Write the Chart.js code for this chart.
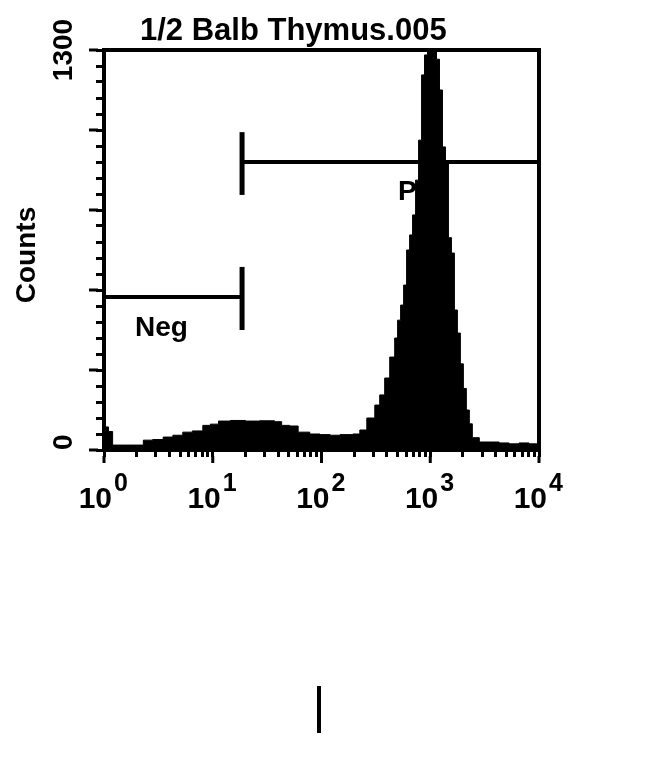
<!DOCTYPE html>
<html lang="en">
<head>
  <meta charset="UTF-8" />
  <title>1/2 Balb Thymus.005</title>
  <style>
    body { margin: 0; background: #fff; }
    #wrap { position: relative; width: 650px; height: 770px; }
    /* little scan mark under the plot */
    #mark { position: absolute; left: 317px; top: 686px; width: 4px; height: 47px; background: #000; }
  </style>
</head>
<body>
  <div id="wrap">
    <canvas id="myChart" width="650" height="770"></canvas>
    <div id="mark"></div>
  </div>
  <script src="https://cdn.jsdelivr.net/npm/chart.js@4.4.0/dist/chart.umd.min.js"></script>
  <script>
    const chartTitle = '1/2 Balb Thymus.005';

    // fluorescence channel (log) and counts per channel
    const intensity = [1, 1.1, 1.2, 1.6, 2.3, 2.8, 3.5, 4.3, 5.3, 6.5, 8.1, 9.5, 11.3, 14.5, 20, 27, 37, 43, 51, 61,
      78, 97, 120, 148, 194, 225, 261, 309, 343, 381, 424, 471, 501, 534, 569, 606, 646, 688, 733, 781,
      832, 886, 944, 1005, 1071, 1141, 1216, 1295, 1380, 1470, 1566, 1668, 1777, 1893, 2016, 2148, 2288, 2437,
      2825, 3485, 4302, 5310, 6555, 8091, 10000];
    const counts = [75, 60, 16, 16, 32, 34, 42, 48, 58, 62, 80, 84, 94, 96, 94, 95, 92, 80, 78, 58,
      52, 50, 48, 50, 52, 65, 104, 146, 179, 234, 302, 364, 422, 471, 536, 650, 699, 764, 877, 1007,
      1219, 1284, 1300, 1300, 1300, 1270, 1170, 985, 940, 690, 640, 455, 380, 280, 200, 130, 85, 40,
      26, 26, 23, 20, 23, 20, 16];

    // axis ticks
    const xTickValues = [1, 2, 3, 4, 5, 6, 7, 8, 9, 10, 20, 30, 40, 50, 60, 70, 80, 90, 100, 200, 300, 400, 500, 600, 700, 800, 900,
      1000, 2000, 3000, 4000, 5000, 6000, 7000, 8000, 9000, 10000];
    const xDecades = [1, 10, 100, 1000, 10000];
    const xExponents = ['0', '1', '2', '3', '4'];
    const yMax = 1300;
    const yStep = 52;
    const yMajor = [0, 260, 520, 780, 1040, 1300];
    const yLabels = [0, 1300];

    // gates
    const gateEdge = 18.6;
    const negGateX = [1, gateEdge];
    const negLevel = 497;
    const negBar = [390, 595];
    const posGateX = [gateEdge, 10000];
    const posLevel = 936;
    const posBar = [829, 1033];

    const FONT = '"Liberation Sans", Arial, sans-serif';

    const paper = {
      id: 'paper',
      afterDraw(chart) {
        const { ctx, chartArea: a, scales: { x, y } } = chart;
        ctx.save();
        ctx.fillStyle = '#000';
        ctx.strokeStyle = '#000';

        // box round the plot
        ctx.lineWidth = 4;
        ctx.strokeRect(a.left, a.top, a.right - a.left, a.bottom - a.top);

        // longer major ticks
        ctx.lineWidth = 3;
        ctx.beginPath();
        yMajor.forEach(v => {
          const py = y.getPixelForValue(v);
          ctx.moveTo(a.left - 15, py);
          ctx.lineTo(a.left - 6, py);
        });
        xDecades.forEach(v => {
          const px = x.getPixelForValue(v);
          ctx.moveTo(px, a.bottom + 6);
          ctx.lineTo(px, a.bottom + 13);
        });
        ctx.stroke();

        // title
        ctx.font = 'bold 31px ' + FONT;
        ctx.textAlign = 'left';
        ctx.textBaseline = 'alphabetic';
        ctx.fillText(chartTitle, 140, 40);

        // gate names
        ctx.font = 'bold 28px ' + FONT;
        ctx.fillText('Neg', 135, 336);

        // x tick labels 10^n
        xDecades.forEach((v, i) => {
          const px = x.getPixelForValue(v);
          ctx.font = 'bold 30px ' + FONT;
          ctx.textAlign = 'right';
          ctx.fillText('10', px + 8, 508);
          ctx.font = 'bold 25px ' + FONT;
          ctx.textAlign = 'left';
          ctx.fillText(xExponents[i], px + 10, 491);
        });

        // y tick labels and title, rotated
        ctx.font = 'bold 28px ' + FONT;
        ctx.textBaseline = 'middle';
        yLabels.forEach(v => {
          const py = y.getPixelForValue(v);
          ctx.save();
          ctx.translate(64, py);
          ctx.rotate(-Math.PI / 2);
          ctx.textAlign = v === 0 ? 'left' : 'center';
          ctx.fillText(String(v), 0, 0);
          ctx.restore();
        });
        ctx.save();
        ctx.translate(27, 255);
        ctx.rotate(-Math.PI / 2);
        ctx.textAlign = 'center';
        ctx.fillText('Counts', 0, 0);
        ctx.restore();

        ctx.restore();
      },
      beforeDatasetsDraw(chart) {
        const { ctx } = chart;
        ctx.save();
        ctx.fillStyle = '#000';
        ctx.font = 'bold 28px ' + FONT;
        ctx.fillText('Pos', 398, 200);
        ctx.restore();
      }
    };

    const pts = (xs, ys) => xs.map((v, i) => ({ x: v, y: ys[i] }));
    const gateStyle = { type: 'line', borderColor: '#000', pointRadius: 0, fill: false };

    const ctx = document.getElementById('myChart').getContext('2d');
    const myChart = new Chart(ctx, {
      type: 'line',
      data: {
        datasets: [{
          label: 'Counts',
          data: pts(intensity, counts),
          stepped: true,
          fill: 'origin',
          backgroundColor: '#000',
          borderColor: '#000',
          borderWidth: 1,
          pointRadius: 0
        },
        { ...gateStyle, label: 'Neg', data: pts(negGateX, [negLevel, negLevel]), borderWidth: 4 },
        { ...gateStyle, label: 'Neg edge', data: pts([gateEdge, gateEdge], negBar), borderWidth: 5 },
        { ...gateStyle, label: 'Pos', data: pts(posGateX, [posLevel, posLevel]), borderWidth: 4 },
        { ...gateStyle, label: 'Pos edge', data: pts([gateEdge, gateEdge], posBar), borderWidth: 5 }]
      },
      options: {
        responsive: false,
        animation: false,
        layout: { padding: { left: 0, top: 50, right: 111, bottom: 0 } },
        plugins: { legend: { display: false }, tooltip: { enabled: false }, title: { display: false } },
        scales: {
          x: {
            type: 'logarithmic',
            min: 1,
            max: 10000,
            afterFit(s) { s.height = 320; },
            afterBuildTicks(s) { s.ticks = xTickValues.map(v => ({ value: v })); },
            ticks: { display: false },
            grid: { drawOnChartArea: false, drawTicks: true, tickLength: 7, tickWidth: 3, tickColor: '#000' },
            border: { display: true, color: '#000', width: 4 }
          },
          y: {
            min: 0,
            max: yMax,
            afterFit(s) { s.width = 104; },
            ticks: { display: false, stepSize: yStep },
            grid: { drawOnChartArea: false, drawTicks: true, tickLength: 8, tickWidth: 3, tickColor: '#000' },
            border: { display: true, color: '#000', width: 4 }
          }
        }
      },
      plugins: [paper]
    });
  </script>
</body>
</html>
